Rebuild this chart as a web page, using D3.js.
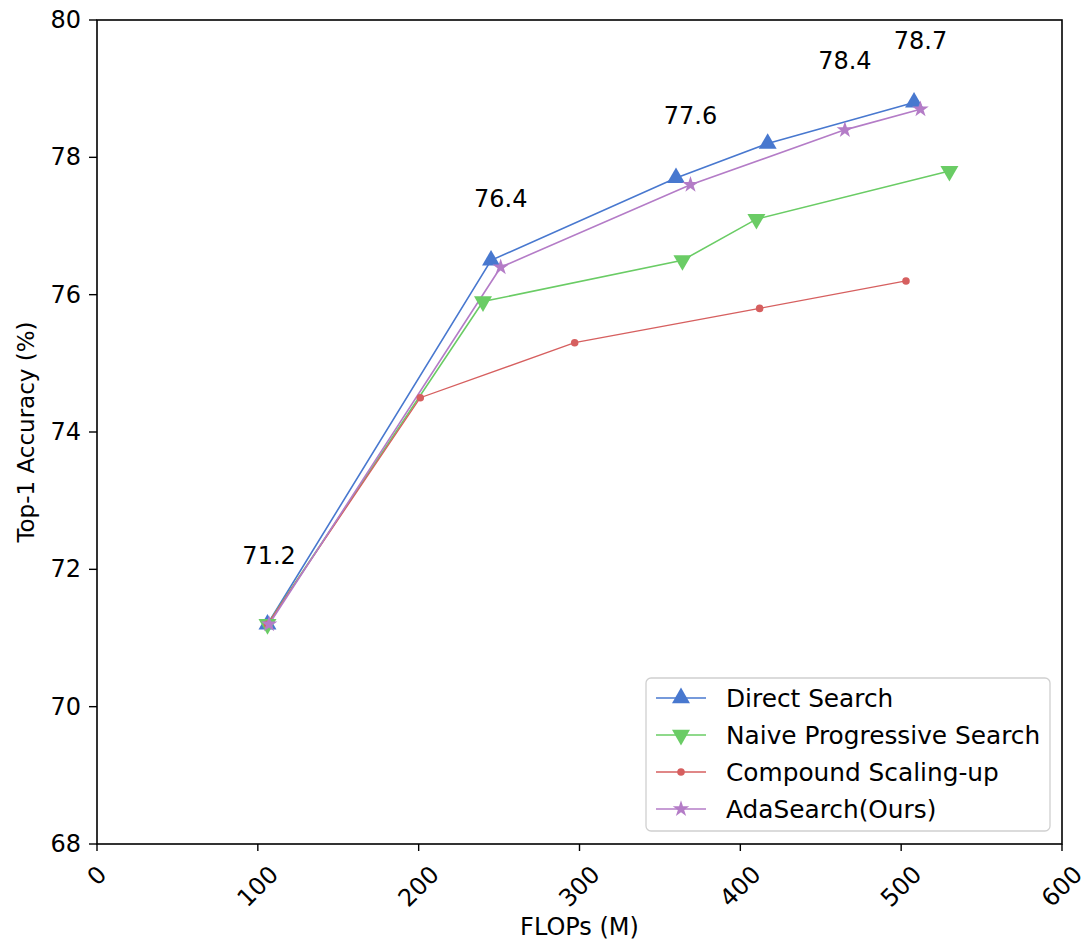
<!DOCTYPE html>
<html lang="en">
<head>
<meta charset="UTF-8">
<title>Top-1 Accuracy vs FLOPs</title>
<script src="https://d3js.org/d3.v7.min.js"></script>
<style>
    body { margin: 0; padding: 0; background: #fff; overflow: hidden; }
    text { font-family: "DejaVu Sans", sans-serif; fill: #000; }
</style>
</head>
<body>
<div id="chart"></div>
<script>
    // series data (FLOPs in M, top-1 %)
    const seriesNames = ["Direct Search", "Naive Progressive Search", "Compound Scaling-up", "AdaSearch(Ours)"];
    const directX = [106, 245, 360, 417, 508];
    const directY = [71.2, 76.5, 77.7, 78.2, 78.8];
    const naiveX = [106, 240, 364, 410, 530];
    const naiveY = [71.2, 75.9, 76.5, 77.1, 77.8];
    const compoundX = [106, 201, 297, 412, 503];
    const compoundY = [71.2, 74.5, 75.3, 75.8, 76.2];
    const adaX = [107, 251, 369, 465, 512];
    const adaY = [71.2, 76.4, 77.6, 78.4, 78.7];
    const xTicks = [0, 100, 200, 300, 400, 500, 600];
    const yTicks = [68, 70, 72, 74, 76, 78, 80];

    const colors = ["#4878CF", "#6ACC65", "#D65F5F", "#B47CC7"];
    const markers = ["up", "down", "circle", "star"];

    const W = 1088, H = 948;
    const margin = { top: 20, right: 26, bottom: 104, left: 97 };
    const width = W - margin.left - margin.right;
    const height = H - margin.top - margin.bottom;
    const fs = 24;

    const svg = d3.select("#chart").append("svg")
        .attr("width", W).attr("height", H);
    const g = svg.append("g").attr("transform", `translate(${margin.left},${margin.top})`);

    const x = d3.scaleLinear().domain([0, 600]).range([0, width]);
    const y = d3.scaleLinear().domain([68, 80]).range([height, 0]);

    const series = [
        { name: seriesNames[0], xs: directX, ys: directY },
        { name: seriesNames[1], xs: naiveX, ys: naiveY },
        { name: seriesNames[2], xs: compoundX, ys: compoundY },
        { name: seriesNames[3], xs: adaX, ys: adaY }
    ].map((s, i) => ({ ...s, color: colors[i], marker: markers[i],
        pts: s.xs.map((v, j) => [v, s.ys[j]]) }));

    // marker shapes
    function markerPath(type) {
        if (type === "up" || type === "down") return d3.symbol(d3.symbolTriangle, 140)();
        if (type === "circle") return d3.symbol(d3.symbolCircle, 45)();
        return d3.symbol(d3.symbolStar, 85)();
    }
    function markerTransform(type) {
        return type === "down" ? "rotate(180)" : "";
    }

    const line = d3.line().x(d => x(d[0])).y(d => y(d[1]));

    series.forEach(s => {
        g.append("path")
            .attr("d", line(s.pts))
            .attr("fill", "none")
            .attr("stroke", s.color)
            .attr("stroke-width", s.marker === "circle" ? 1.3 : 1.6);
    });
    series.forEach(s => {
        g.selectAll(null).data(s.pts).enter().append("path")
            .attr("d", markerPath(s.marker))
            .attr("transform", d => `translate(${x(d[0])},${y(d[1])}) ${markerTransform(s.marker)}`)
            .attr("fill", s.color);
    });

    // value annotations for AdaSearch
    g.selectAll(".ann").data(series[3].pts).enter().append("text")
        .attr("x", d => x(d[0]))
        .attr("y", d => y(d[1] + 1.0))
        .attr("text-anchor", "middle")
        .attr("dominant-baseline", "central")
        .style("font-size", fs + "px")
        .text(d => d[1].toFixed(1));

    // frame
    g.append("rect").attr("width", width).attr("height", height)
        .attr("fill", "none").attr("stroke", "#000").attr("stroke-width", 1.6);

    // y axis
    yTicks.forEach(t => {
        g.append("line").attr("x1", -8).attr("x2", 0)
            .attr("y1", y(t)).attr("y2", y(t))
            .attr("stroke", "#000").attr("stroke-width", 1.4);
        g.append("text").attr("x", -16).attr("y", y(t))
            .attr("text-anchor", "end").attr("dominant-baseline", "central")
            .style("font-size", fs + "px").text(t);
    });

    // x axis, rotated labels
    xTicks.forEach(t => {
        g.append("line").attr("x1", x(t)).attr("x2", x(t))
            .attr("y1", height).attr("y2", height + 7)
            .attr("stroke", "#000").attr("stroke-width", 1.4);
        const len = String(t).length * 0.636 * fs;
        const off = 20 + (len + 0.73 * fs) * 0.707 / 2;
        g.append("text")
            .attr("transform", `translate(${x(t)},${height + off}) rotate(-45)`)
            .attr("text-anchor", "middle").attr("dominant-baseline", "central")
            .style("font-size", fs + "px").text(t);
    });

    g.append("text").attr("x", width / 2).attr("y", height + 91)
        .attr("text-anchor", "middle").style("font-size", fs + "px").text("FLOPs (M)");
    g.append("text")
        .attr("transform", `translate(-71,${height / 2}) rotate(-90)`)
        .attr("text-anchor", "middle").attr("dominant-baseline", "central")
        .style("font-size", "23px").text("Top-1 Accuracy (%)");

    // legend
    const lg = svg.append("g").attr("transform", "translate(646,678)");
    lg.append("rect").attr("width", 404).attr("height", 153)
        .attr("rx", 5).attr("fill", "#fff").attr("stroke", "#d0d0d0").attr("stroke-width", 1.3);
    series.forEach((s, i) => {
        const ly = 20 + i * 37;
        lg.append("line").attr("x1", 10).attr("x2", 60).attr("y1", ly).attr("y2", ly)
            .attr("stroke", s.color).attr("stroke-width", s.marker === "circle" ? 1.3 : 1.6);
        lg.append("path").attr("d", markerPath(s.marker))
            .attr("transform", `translate(35,${ly}) ${markerTransform(s.marker)}`)
            .attr("fill", s.color);
        lg.append("text").attr("x", 80).attr("y", ly)
            .attr("dominant-baseline", "central")
            .style("font-size", "24.8px").text(s.name);
    });
</script>
</body>
</html>
